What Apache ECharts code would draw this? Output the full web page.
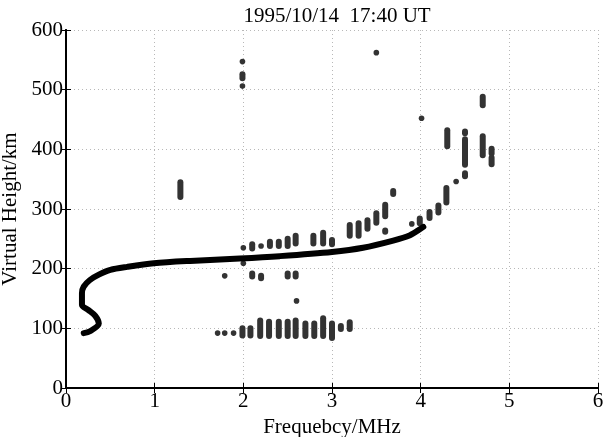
<!DOCTYPE html>
<html lang="en">
<head>
    <meta charset="UTF-8">
    <title>Ionogram</title>
    <script src="https://cdn.jsdelivr.net/npm/echarts@6/dist/echarts.min.js"></script>
    <style>
        html, body { margin: 0; padding: 0; background: #fff; }
        #chart { width: 605px; height: 437px; }
    </style>
</head>
<body>
<div id="chart"></div>
<script type="text/javascript">
// trace of the F layer (frequency MHz, virtual height km)
var traceFreq   = [0.20, 0.27, 0.37, 0.33, 0.25, 0.18, 0.18, 0.20, 0.27, 0.37, 0.50, 0.69, 0.99, 1.40, 1.96, 2.41, 3.00, 3.35, 3.69, 3.88, 3.99, 4.03];
var traceHeight = [92,   95,   108,  121,  131,  139,  159,  170,  181,  190,  198,  203,  209,  213,  217,  221,  228,  235,  247,  256,  266,  270];

// scattered echoes: [frequency, lowest height, highest height]
var echoes = [
    [1.29, 320, 345],
    [1.99, 506, 506], [1.99, 519, 526], [1.99, 547, 547],
    [3.50, 562, 562], [4.01, 452, 452],
    [1.71, 92, 92], [1.79, 92, 92], [1.89, 92, 92],
    [1.99, 88, 100], [2.08, 88, 100], [2.19, 87, 113], [2.29, 87, 111],
    [2.40, 87, 111], [2.50, 87, 111], [2.59, 87, 113], [2.70, 87, 108],
    [2.80, 87, 108], [2.90, 87, 117], [3.00, 84, 108], [3.10, 99, 104],
    [3.20, 99, 110],
    [2.60, 146, 146],
    [1.79, 188, 188], [2.10, 187, 192], [2.20, 184, 188], [2.50, 187, 192], [2.59, 187, 192],
    [2.00, 209, 209],
    [2.00, 235, 235], [2.10, 234, 241], [2.20, 238, 238], [2.30, 238, 245],
    [2.40, 238, 245], [2.50, 238, 250], [2.59, 242, 255], [2.79, 242, 255],
    [2.90, 242, 260], [3.00, 241, 248], [3.20, 255, 273], [3.30, 255, 276],
    [3.40, 267, 281], [3.50, 277, 293], [3.60, 288, 307], [3.60, 262, 264],
    [3.69, 325, 330], [3.90, 275, 275], [3.99, 276, 284], [4.10, 285, 295],
    [4.20, 294, 306], [4.29, 311, 335], [4.30, 405, 432], [4.40, 346, 346],
    [4.50, 355, 360], [4.50, 374, 417], [4.50, 427, 430],
    [4.70, 474, 488], [4.70, 390, 422], [4.80, 393, 401], [4.80, 375, 386]
];

var titleText = '1995/10/14  17:40 UT';
var xName = 'Frequebcy/MHz';
var yName = 'Virtual Height/km';

var traceData = traceFreq.map(function (f, i) { return [f, traceHeight[i]]; });

var font = 'Liberation Serif';
var myChart = echarts.init(document.getElementById('chart'));

var axisLine = { show: true, lineStyle: { color: '#000', width: 2 } };
var tick = { show: true, inside: true, length: 5, lineStyle: { color: '#000', width: 1 } };
var grid = { show: true, lineStyle: { color: '#b8b8b8', type: [1, 3], width: 1 } };

option = {
    animation: false,
    title: {
        text: titleText,
        left: 332, top: 1, textAlign: 'center',
        textStyle: { fontFamily: font, fontSize: 21, fontWeight: 'normal', color: '#000' }
    },
    grid: { left: 66, right: 7, top: 30, bottom: 49, outerBoundsMode: 'none' },
    xAxis: [
        {
            type: 'value', min: 0, max: 6, interval: 1, position: 'bottom',
            name: xName, nameLocation: 'middle', nameGap: 25,
            nameTextStyle: { fontFamily: font, fontSize: 21, color: '#000' },
            axisLine: axisLine, axisTick: tick, splitLine: grid,
            axisLabel: { fontFamily: font, fontSize: 21, color: '#000', margin: 3 }
        },
        {
            type: 'value', min: 0, max: 6, interval: 1, position: 'top',
            axisLine: axisLine, axisTick: tick, splitLine: { show: false },
            axisLabel: { show: false }
        }
    ],
    yAxis: [
        {
            type: 'value', min: 0, max: 600, interval: 100, position: 'left',
            name: yName, nameLocation: 'middle', nameGap: 40,
            nameTextStyle: { fontFamily: font, fontSize: 21, color: '#000' },
            axisLine: axisLine, axisTick: tick, splitLine: grid,
            axisLabel: { fontFamily: font, fontSize: 21, color: '#000', margin: 3 }
        },
        {
            type: 'value', min: 0, max: 600, interval: 100, position: 'right',
            axisLine: axisLine, axisTick: tick, splitLine: { show: false },
            axisLabel: { show: false }
        }
    ],
    series: [
        {
            type: 'custom',
            data: echoes,
            encode: { x: 0, y: [1, 2] },
            renderItem: function (params, api) {
                var p1 = api.coord([api.value(0), api.value(1)]);
                var p2 = api.coord([api.value(0), api.value(2)]);
                if (Math.abs(p1[1] - p2[1]) < 1) {
                    return { type: 'circle', shape: { cx: p1[0], cy: p1[1], r: 2.8 }, style: { fill: '#333' } };
                }
                return {
                    type: 'line',
                    shape: { x1: p1[0], y1: p1[1], x2: p2[0], y2: p2[1] },
                    style: { stroke: '#333', lineWidth: 6, lineCap: 'round' }
                };
            }
        },
        {
            type: 'line',
            data: traceData,
            showSymbol: false,
            smooth: 0.3,
            lineStyle: { color: '#000', width: 6, cap: 'round', join: 'round' }
        }
    ]
};
myChart.setOption(option);
</script>
</body>
</html>
